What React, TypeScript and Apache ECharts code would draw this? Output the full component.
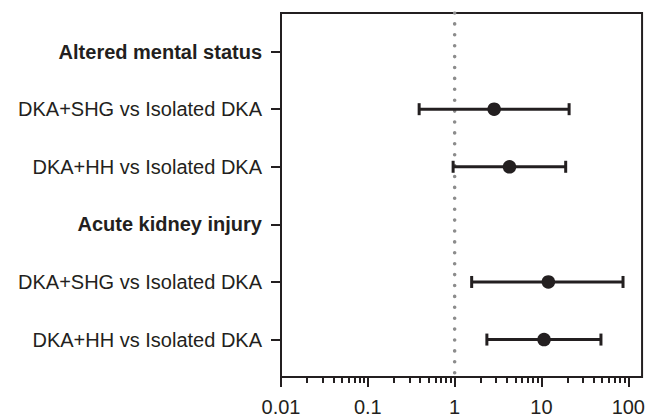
import React, { useEffect, useRef } from "react";
import * as echarts from "echarts";

// Rows, top to bottom
const rowLabels = [
  "Altered mental status",
  "DKA+SHG vs Isolated DKA",
  "DKA+HH vs Isolated DKA",
  "Acute kidney injury",
  "DKA+SHG vs Isolated DKA",
  "DKA+HH vs Isolated DKA",
];
const rowIsHeader = [true, false, false, true, false, false];

// Odds ratios with 95% CI (null for header rows)
const oddsRatio = [null, 2.85, 4.28, null, 12.0, 10.7];
const ciLower = [null, 0.39, 0.96, null, 1.57, 2.35];
const ciUpper = [null, 20.8, 19.0, null, 86.9, 48.4];

// x axis (log scale)
const majorTicks = [0.01, 0.1, 1, 10, 100];
const majorTickLabels = ["0.01", "0.1", "1", "10", "100"];
const minorMultipliers = [2, 3, 4, 5, 6, 7, 8, 9];
const xMin = 0.01;
const xMax = 144;
const referenceValue = 1;

const INK = "#231f20";
const FONT = "'Liberation Sans', Arial, Helvetica, sans-serif";

export default function App() {
  const ref = useRef<HTMLDivElement>(null);

  useEffect(() => {
    document.body.style.margin = "0";
    if (!ref.current) return;
    const chart = echarts.init(ref.current, undefined, { renderer: "svg" });

    const lg = (v: number) => Math.log10(v);
    const minorTicks: number[] = [];
    majorTicks.slice(0, -1).forEach((d) => {
      minorMultipliers.forEach((m) => minorTicks.push(lg(d * m)));
    });

    const rowPositions = rowLabels.map((_, i) => i + 1);
    const yMin = 0.33;
    const yMax = 6.65;

    const ciData: number[][] = [];
    rowLabels.forEach((_, i) => {
      const o = oddsRatio[i];
      const lo = ciLower[i];
      const hi = ciUpper[i];
      if (o != null && lo != null && hi != null) {
        ciData.push([lg(o), i + 1, lg(lo), lg(hi)]);
      }
    });

    const option: any = {
      animation: false,
      backgroundColor: "#ffffff",
      grid: {
        left: 281,
        right: 1,
        top: 13,
        bottom: 39,
        show: true,
        borderColor: INK,
        borderWidth: 2,
        backgroundColor: "transparent",
      },
      xAxis: [
        {
          type: "value",
          min: lg(xMin),
          max: lg(xMax),
          position: "bottom",
          axisLine: { show: true, onZero: false, lineStyle: { color: INK, width: 2 } },
          axisTick: {
            show: true,
            customValues: majorTicks.map(lg),
            length: 10,
            lineStyle: { color: INK, width: 2 },
          },
          axisLabel: {
            show: true,
            customValues: majorTicks.map(lg),
            formatter: (v: number) => {
              const idx = majorTicks.findIndex((t) => Math.abs(lg(t) - v) < 1e-6);
              return idx >= 0 ? majorTickLabels[idx] : "";
            },
            margin: 20,
            color: INK,
            fontSize: 20,
            fontFamily: FONT,
          },
          splitLine: { show: false },
        },
        {
          type: "value",
          min: lg(xMin),
          max: lg(xMax),
          position: "bottom",
          axisLine: { show: false, onZero: false },
          axisTick: {
            show: true,
            customValues: minorTicks,
            length: 6,
            lineStyle: { color: INK, width: 2 },
          },
          axisLabel: { show: false },
          splitLine: { show: false },
        },
      ],
      yAxis: {
        type: "value",
        inverse: true,
        min: yMin,
        max: yMax,
        position: "left",
        axisLine: { show: true, onZero: false, lineStyle: { color: INK, width: 2 } },
        axisTick: {
          show: true,
          customValues: rowPositions,
          length: 10,
          lineStyle: { color: INK, width: 2 },
        },
        axisLabel: {
          show: true,
          customValues: rowPositions,
          margin: 19,
          formatter: (v: number) => {
            const i = Math.round(v) - 1;
            const t = rowLabels[i] ?? "";
            return rowIsHeader[i] ? `{b|${t}}` : `{n|${t}}`;
          },
          rich: {
            b: { fontWeight: "bold", fontSize: 20, fontFamily: FONT, color: INK },
            n: { fontWeight: "normal", fontSize: 20, fontFamily: FONT, color: INK },
          },
        },
        splitLine: { show: false },
      },
      series: [
        {
          type: "line",
          xAxisIndex: 0,
          data: [
            [lg(referenceValue), yMin],
            [lg(referenceValue), yMax],
          ],
          symbol: "none",
          silent: true,
          lineStyle: {
            color: "#8c8c8c",
            width: 3.6,
            type: [0, 10.9],
            cap: "round",
          },
          z: 1,
        },
        {
          type: "custom",
          xAxisIndex: 0,
          data: ciData,
          encode: { x: [0, 2, 3], y: 1 },
          z: 5,
          renderItem: (params: any, api: any) => {
            const c = api.value(0);
            const y = api.value(1);
            const lo = api.value(2);
            const hi = api.value(3);
            const pC = api.coord([c, y]);
            const pL = api.coord([lo, y]);
            const pH = api.coord([hi, y]);
            const cap = 6;
            const st = { stroke: INK, lineWidth: 3 };
            return {
              type: "group",
              children: [
                { type: "line", shape: { x1: pL[0], y1: pL[1], x2: pH[0], y2: pH[1] }, style: st },
                { type: "line", shape: { x1: pL[0], y1: pL[1] - cap, x2: pL[0], y2: pL[1] + cap }, style: st },
                { type: "line", shape: { x1: pH[0], y1: pH[1] - cap, x2: pH[0], y2: pH[1] + cap }, style: st },
                { type: "circle", shape: { cx: pC[0], cy: pC[1], r: 6.8 }, style: { fill: INK } },
              ],
            };
          },
        },
      ],
    };

    chart.setOption(option);
    return () => chart.dispose();
  }, []);

  return <div ref={ref} style={{ width: 648, height: 417 }} />;
}
